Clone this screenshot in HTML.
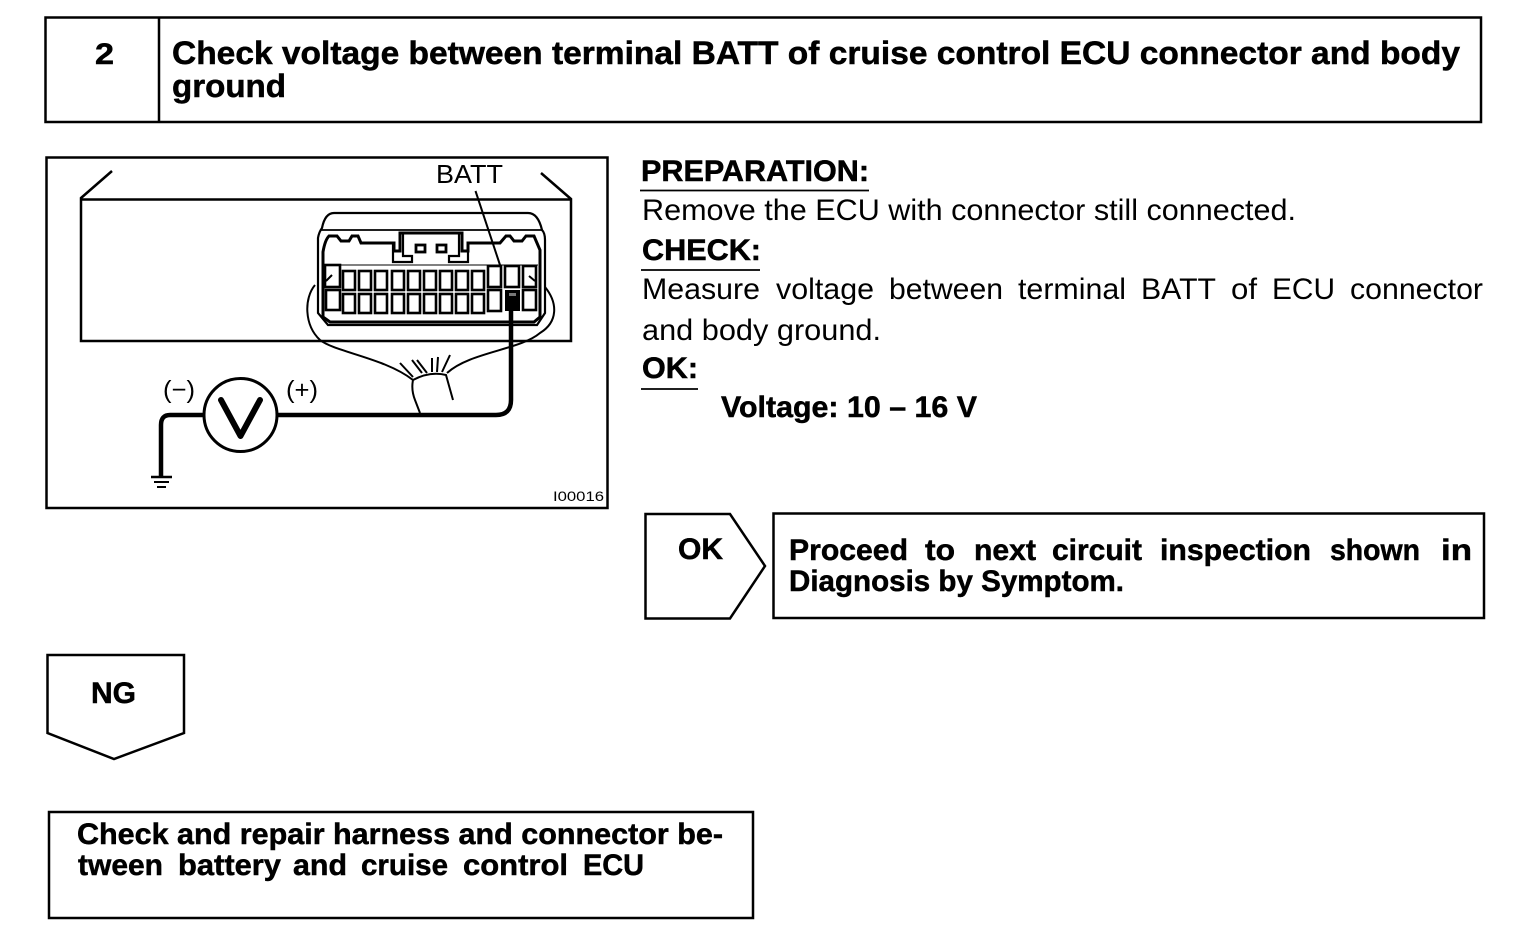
<!DOCTYPE html>
<html><head><meta charset="utf-8"><style>
html,body{margin:0;padding:0;background:#fff;width:1520px;height:946px;overflow:hidden}
svg{display:block}
text{font-family:"Liberation Sans",sans-serif;fill:#000;stroke:none}
.h{font-weight:700;font-size:30px;stroke:#000;stroke-width:.5px}
.t1{font-weight:700;font-size:32px;stroke:#000;stroke-width:.5px}
.n{font-size:30px}
.l{fill:none;stroke:#000;stroke-width:2.5}
.t{fill:none;stroke:#000;stroke-width:2}
.c{fill:#fff;stroke:#000;stroke-width:2.6}
</style></head><body>
<svg width="1520" height="946" viewBox="0 0 1520 946" xmlns="http://www.w3.org/2000/svg">
<!-- header -->
<rect x="45.5" y="17.5" width="1435.5" height="104.5" class="l"/>
<line x1="159" y1="17" x2="159" y2="122" class="l"/>
<text x="95" y="64" class="h" textLength="19" lengthAdjust="spacingAndGlyphs">2</text>
<text x="172" y="64" class="t1" textLength="1288" lengthAdjust="spacingAndGlyphs">Check voltage between terminal BATT of cruise control ECU connector and body</text>
<text x="172" y="97" class="t1" textLength="114" lengthAdjust="spacingAndGlyphs">ground</text>
<!-- diagram box -->
<rect x="46.5" y="157.5" width="561" height="350.5" class="l"/>
<path d="M112 171 L81 198 V341 H571 V199 L541 173" class="l"/>
<line x1="81" y1="199.5" x2="571" y2="199.5" class="l"/>
<!-- connector -->
<path d="M318 313 V238 Q319 232 322 228 Q325 213 334 213 H528 Q538 213 542 230 Q545 233 545 240 V313 L537 325 H328 Z" fill="#fff" stroke="#000" stroke-width="2.2"/>
<line x1="320" y1="230" x2="543" y2="230" stroke="#000" stroke-width="1.8"/>
<path d="M323 317 V252 Q325 240 329 236 H337 L341 241 H349 L352 236 H358 L361 243 H394 V251 H400 V233 H462 V251 H468 V243 H500 L506 236 H510 L514 241 H522 L526 236 H534 L540 250 V317 L534 322 H330 Z" fill="none" stroke="#000" stroke-width="3"/>
<path d="M393 244 V262 H412 V256 H403 V233 M468 244 V262 H449 V256 H459 V233" fill="none" stroke="#000" stroke-width="2.2"/>
<rect x="416" y="245" width="9" height="7" fill="#fff" stroke="#000" stroke-width="2.8"/>
<rect x="437" y="245" width="9" height="7" fill="#fff" stroke="#000" stroke-width="2.8"/>
<line x1="323" y1="265" x2="538" y2="265" stroke="#000" stroke-width="1"/>
<g>
<rect x="325" y="265" width="15" height="22" class="c"/><rect x="343" y="271" width="12" height="19" class="c"/><rect x="359" y="271" width="12" height="19" class="c"/><rect x="375" y="271" width="12" height="19" class="c"/><rect x="392" y="271" width="12" height="19" class="c"/><rect x="408" y="271" width="12" height="19" class="c"/><rect x="424" y="271" width="12" height="19" class="c"/><rect x="440" y="271" width="12" height="19" class="c"/><rect x="456" y="271" width="12" height="19" class="c"/><rect x="472" y="271" width="12" height="19" class="c"/>
<rect x="488" y="266" width="13" height="21" class="c"/><rect x="505" y="266" width="14" height="21" class="c"/><rect x="523" y="266" width="13" height="21" class="c"/>
<rect x="326" y="290" width="14" height="20" class="c"/><rect x="343" y="294" width="12" height="19" class="c"/><rect x="359" y="294" width="12" height="19" class="c"/><rect x="375" y="294" width="12" height="19" class="c"/><rect x="392" y="294" width="12" height="19" class="c"/><rect x="408" y="294" width="12" height="19" class="c"/><rect x="424" y="294" width="12" height="19" class="c"/><rect x="440" y="294" width="12" height="19" class="c"/><rect x="456" y="294" width="12" height="19" class="c"/><rect x="472" y="294" width="12" height="19" class="c"/>
<rect x="488" y="290" width="13" height="21" class="c"/><rect x="523" y="290" width="13" height="20" class="c"/>
</g>
<rect x="505" y="290" width="15" height="21" fill="#000"/>
<rect x="509" y="293" width="7" height="3" fill="#777"/>
<path d="M326 281 L332 275 M529 276 L535 281" class="t"/>
<!-- harness -->
<path d="M315 285 C304 298 304 325 320 340 C335 352 385 358 413 380" class="t"/>
<path d="M545 287 C558 303 558 322 540 333 C520 350 470 352 447 373" class="t"/>
<path d="M400 363 L413 377 M412 360 L422 373 M417 360 L427 373 M432 358 L432 372 M438 357 L437 372 M450 355 L442 372" class="t"/>
<path d="M413 380 Q430 371 446 375 L453 400 M413 380 Q411 390 415 400 L420 413" class="t"/>
<!-- BATT -->
<text x="436" y="183" font-size="26" textLength="67" lengthAdjust="spacingAndGlyphs">BATT</text>
<line x1="475.5" y1="191" x2="500" y2="265" class="t"/>
<!-- wires -->
<path d="M511 300 V400 Q511 415 496 415 H278" fill="none" stroke="#000" stroke-width="4.5"/>
<path d="M203 415 H170 Q161 415 161 425 V476" fill="none" stroke="#000" stroke-width="4.5"/>
<circle cx="240.5" cy="415" r="36.5" fill="#fff" stroke="#000" stroke-width="3"/>
<path d="M221 400 L240.5 436 L260 400" fill="none" stroke="#000" stroke-width="6" stroke-linecap="round" stroke-linejoin="round"/>
<path d="M151 477 H172" stroke="#000" stroke-width="2.5"/><path d="M154 482 H169" stroke="#000" stroke-width="2"/><path d="M157 487 H166" stroke="#000" stroke-width="2"/>
<text x="163" y="398" font-size="25" textLength="32" lengthAdjust="spacingAndGlyphs">(−)</text>
<text x="286" y="398" font-size="25" textLength="32" lengthAdjust="spacingAndGlyphs">(+)</text>
<text x="553" y="501" font-size="14" textLength="51" lengthAdjust="spacingAndGlyphs">I00016</text>
<!-- right text -->
<text x="641" y="181" class="h" textLength="228" lengthAdjust="spacingAndGlyphs">PREPARATION:</text>
<line x1="640" y1="190.5" x2="869" y2="190.5" stroke="#000" stroke-width="1.8"/>
<text x="642" y="220" class="n" textLength="654" lengthAdjust="spacingAndGlyphs">Remove the ECU with connector still connected.</text>
<text x="642" y="260" class="h" textLength="119" lengthAdjust="spacingAndGlyphs">CHECK:</text>
<line x1="641" y1="270" x2="760" y2="270" stroke="#000" stroke-width="1.8"/>
<g class="n">
<text x="642" y="299" class="n" textLength="118" lengthAdjust="spacingAndGlyphs">Measure</text>
<text x="776" y="299" class="n" textLength="98" lengthAdjust="spacingAndGlyphs">voltage</text>
<text x="889" y="299" class="n" textLength="114" lengthAdjust="spacingAndGlyphs">between</text>
<text x="1018" y="299" class="n" textLength="108" lengthAdjust="spacingAndGlyphs">terminal</text>
<text x="1141" y="299" class="n" textLength="75" lengthAdjust="spacingAndGlyphs">BATT</text>
<text x="1231" y="299" class="n" textLength="26" lengthAdjust="spacingAndGlyphs">of</text>
<text x="1272" y="299" class="n" textLength="63" lengthAdjust="spacingAndGlyphs">ECU</text>
<text x="1350" y="299" class="n" textLength="133" lengthAdjust="spacingAndGlyphs">connector</text>
</g>
<text x="642" y="340" class="n" textLength="239" lengthAdjust="spacingAndGlyphs">and body ground.</text>
<text x="642" y="378" class="h" textLength="56" lengthAdjust="spacingAndGlyphs">OK:</text>
<line x1="641" y1="389" x2="698" y2="389" stroke="#000" stroke-width="1.8"/>
<text x="721" y="417" class="h" textLength="256" lengthAdjust="spacingAndGlyphs">Voltage: 10 – 16 V</text>
<!-- OK -->
<path d="M645.5 514 H730 L765 566 L730 618.5 H645.5 Z" class="l"/>
<text x="678" y="559" class="h" textLength="45" lengthAdjust="spacingAndGlyphs">OK</text>
<rect x="773.5" y="513.5" width="710.5" height="104.5" class="l"/>
<text x="789" y="560" class="h" textLength="119" lengthAdjust="spacingAndGlyphs">Proceed</text>
<text x="925" y="560" class="h" textLength="30" lengthAdjust="spacingAndGlyphs">to</text>
<text x="974" y="560" class="h" textLength="62" lengthAdjust="spacingAndGlyphs">next</text>
<text x="1052" y="560" class="h" textLength="90" lengthAdjust="spacingAndGlyphs">circuit</text>
<text x="1160" y="560" class="h" textLength="151" lengthAdjust="spacingAndGlyphs">inspection</text>
<text x="1330" y="560" class="h" textLength="90" lengthAdjust="spacingAndGlyphs">shown</text>
<text x="1441" y="560" class="h" textLength="31" lengthAdjust="spacingAndGlyphs">in</text>
<text x="789" y="591" class="h" textLength="335" lengthAdjust="spacingAndGlyphs">Diagnosis by Symptom.</text>
<!-- NG -->
<path d="M47.5 655 H184 V733 L114 759 L47.5 733 Z" class="l"/>
<text x="91" y="703" class="h" textLength="45" lengthAdjust="spacingAndGlyphs">NG</text>
<rect x="49" y="812" width="704" height="106" class="l"/>
<text x="77" y="844" class="h" textLength="646" lengthAdjust="spacingAndGlyphs">Check and repair harness and connector be-</text>
<text x="78" y="875" class="h" textLength="85" lengthAdjust="spacingAndGlyphs">tween</text>
<text x="178" y="875" class="h" textLength="103" lengthAdjust="spacingAndGlyphs">battery</text>
<text x="293" y="875" class="h" textLength="54" lengthAdjust="spacingAndGlyphs">and</text>
<text x="361" y="875" class="h" textLength="87" lengthAdjust="spacingAndGlyphs">cruise</text>
<text x="463" y="875" class="h" textLength="105" lengthAdjust="spacingAndGlyphs">control</text>
<text x="583" y="875" class="h" textLength="61" lengthAdjust="spacingAndGlyphs">ECU</text>
</svg>
</body></html>
